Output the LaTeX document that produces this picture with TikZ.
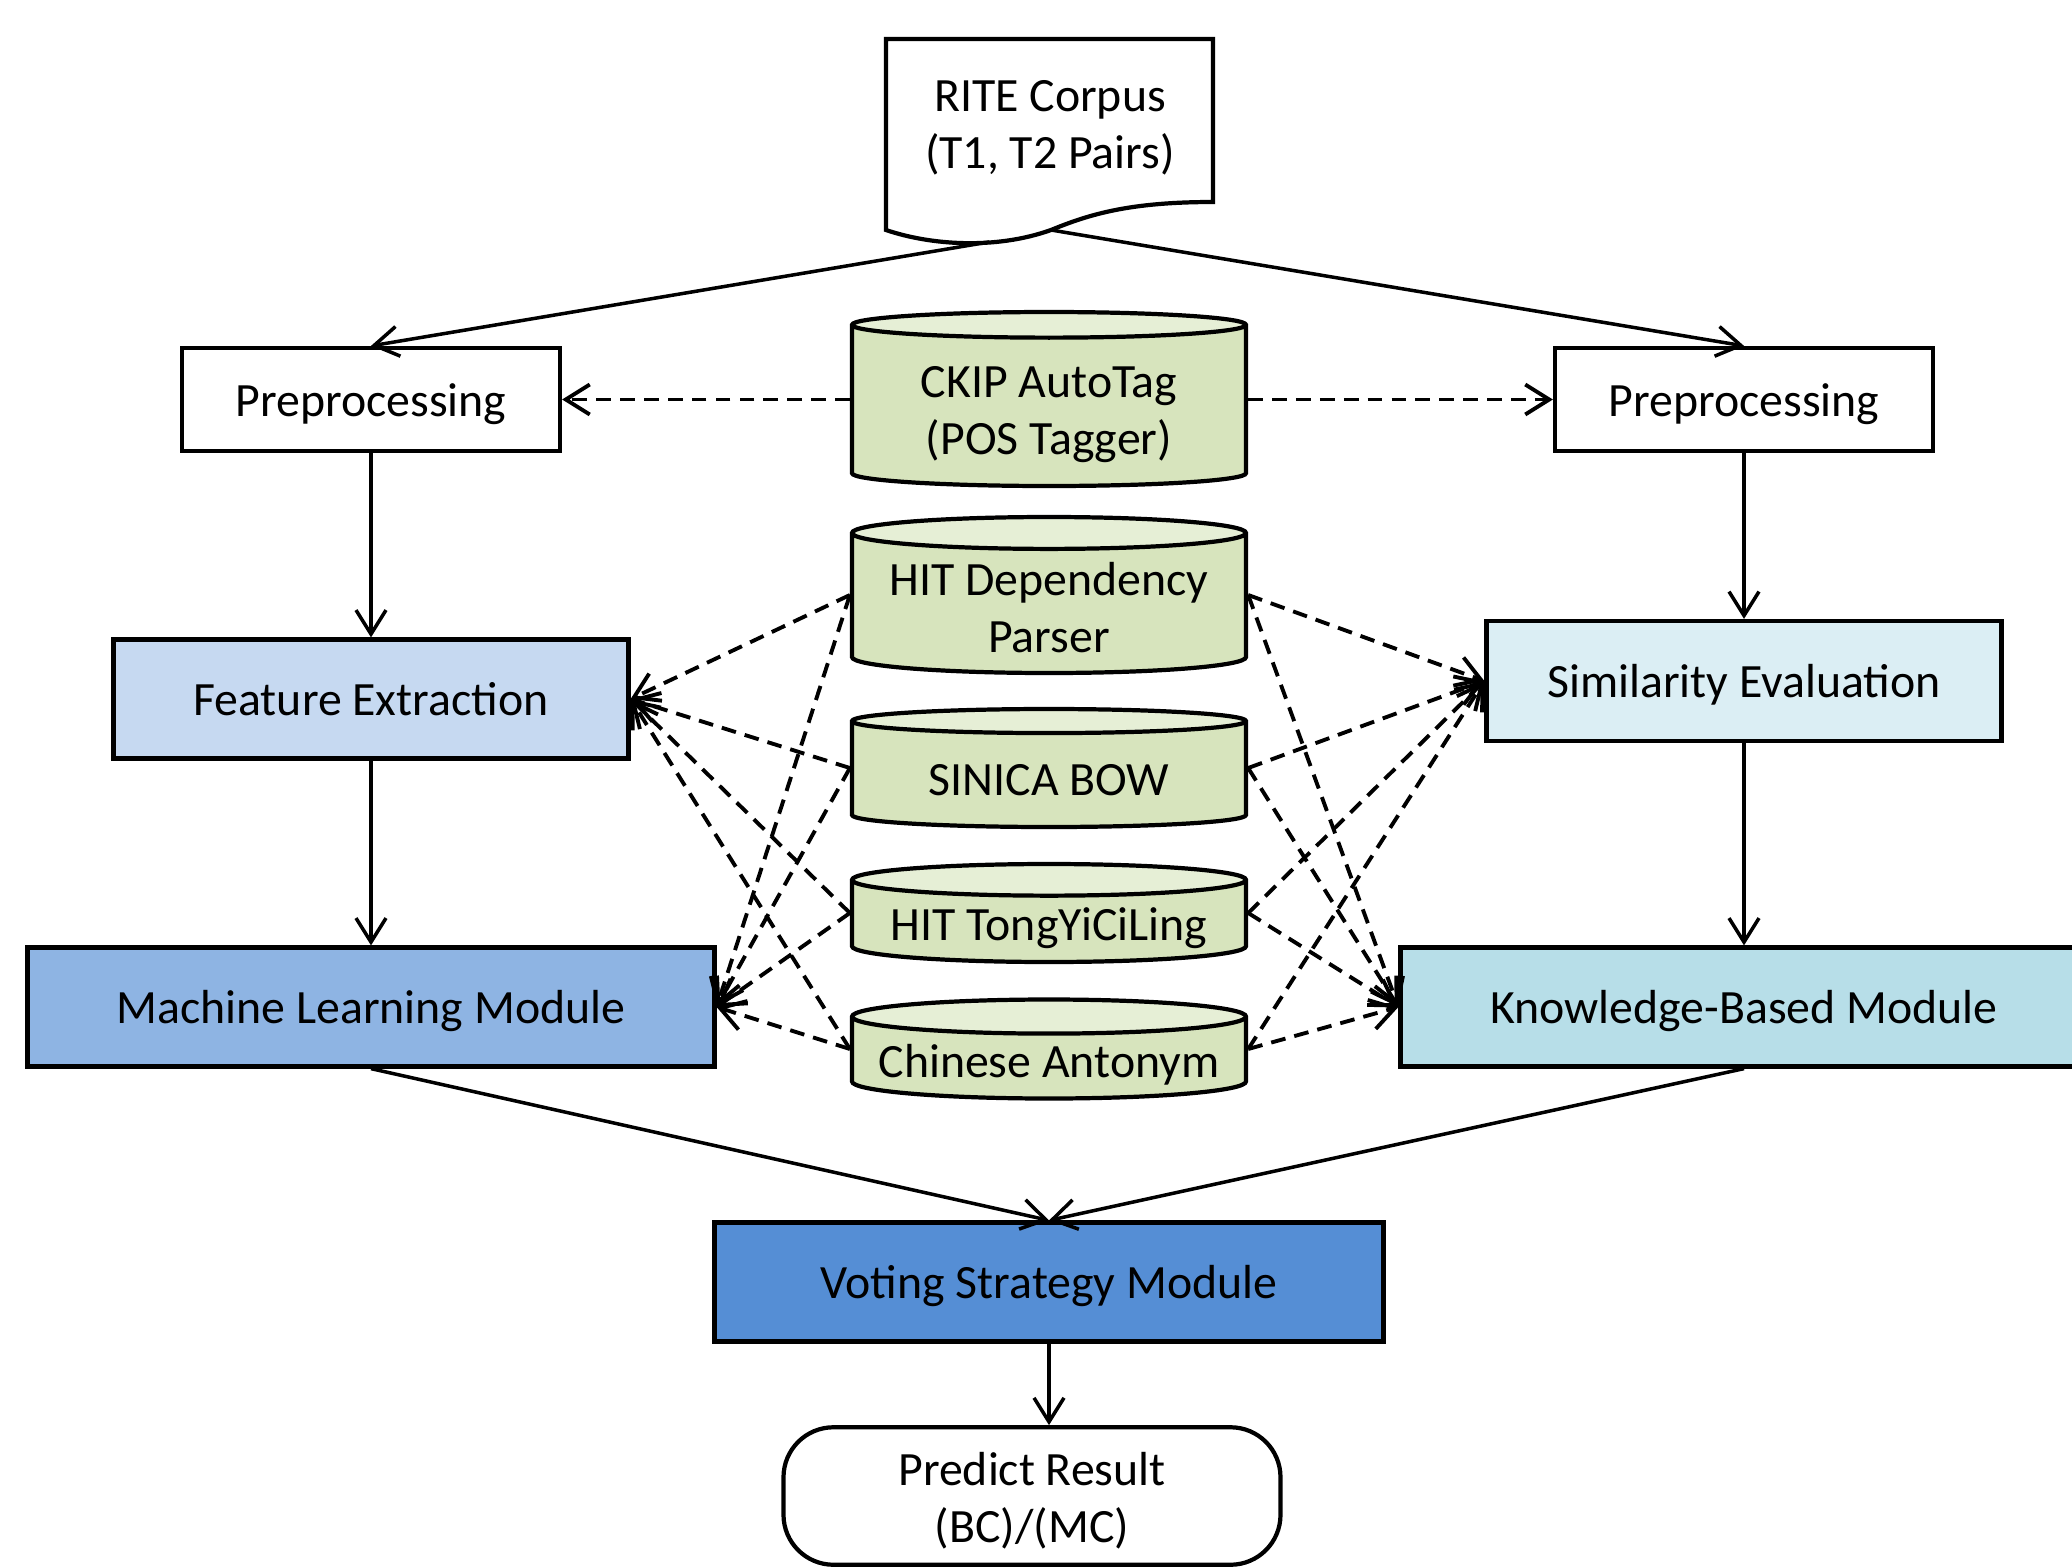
\documentclass[tikz,border=0pt]{standalone}
\usepackage{fontspec}
\setmainfont{Carlito}
\usetikzlibrary{shapes.geometric, arrows.meta}

\definecolor{featblue}{HTML}{C6D9F1}
\definecolor{mlblue}{HTML}{8EB4E3}
\definecolor{voteblue}{HTML}{558ED5}
\definecolor{simblue}{HTML}{DBEEF4}
\definecolor{kbblue}{HTML}{B7DEE8}
\definecolor{dbgreen}{HTML}{D7E4BD}
\definecolor{dbtop}{HTML}{E6EFD6}

\begin{document}
\begin{tikzpicture}[
  font=\fontsize{13.6}{16.3}\selectfont,
  box/.style={draw, line width=1.2pt, minimum height=1.19cm, inner sep=0pt,
    text height=1em, text depth=0.05em},
  db/.style={cylinder, shape border rotate=90, aspect=0.1, draw, line width=1.2pt,
    minimum width=3.94cm, cylinder uses custom fill, cylinder body fill=dbgreen,
    cylinder end fill=dbtop, align=center, inner sep=0pt, anchor=shape center},
  flow/.style={-{Straight Barb[length=2.4mm, width=3mm]}, line width=1pt},
  feed/.style={flow, line width=1.1pt, dash pattern=on 4.2pt off 2.6pt}
]
\useasboundingbox (0, 0) rectangle (20.72, -15.67);

% corpus document
\draw[line width=1.2pt, fill=white] (8.86, -0.39) -- (12.13, -0.39) -- (12.13, -2.02)
  .. controls (11.3, -2.02) and (10.9, -2.14) .. (10.51, -2.30)
  .. controls (9.95, -2.50) and (9.3, -2.45) .. (8.86, -2.30) -- cycle;
\node[align=center] (corpus) at (10.50, -1.28) {RITE Corpus\\(T1, T2 Pairs)};
\coordinate (corpus left) at (9.89, -2.42);
\coordinate (corpus right) at (10.51, -2.30);

\node[box, minimum width=3.78cm, minimum height=1.03cm] (prep left) at (3.71, -3.995) {Preprocessing};
\node[box, minimum width=3.78cm, minimum height=1.03cm] (prep right) at (17.44, -3.995) {Preprocessing};

% resources
\node[db, minimum height=1.74cm] (ckip db) at (10.49, -3.99) {\rule{0pt}{1em}CKIP AutoTag\\(POS Tagger)};
\node[db, minimum height=1.56cm] (hit dep db) at (10.49, -5.95) {\rule{0pt}{0.85em}HIT Dependency\\Parser};
\node[db, minimum height=1.18cm] (sinica db) at (10.49, -7.68) {\rule{0pt}{0.85em}SINICA BOW};
\node[db, minimum height=0.98cm, inner ysep=-3pt] (tongyi db) at (10.49, -9.13) {\rule{0pt}{0.95em}HIT TongYiCiLing};
\node[db, minimum height=0.99cm, inner ysep=-3pt] (antonym db) at (10.49, -10.49) {\rule{0pt}{0.95em}Chinese Antonym};

\node[box, fill=featblue, minimum width=5.15cm] (feature box) at (3.71, -6.99) {Feature Extraction};
\node[box, fill=simblue, minimum width=5.15cm, minimum height=1.20cm] (similarity box) at (17.44, -6.81) {Similarity Evaluation};
\node[box, fill=mlblue, minimum width=6.87cm] (ml box) at (3.71, -10.07) {Machine Learning Module};
\node[box, fill=kbblue, minimum width=6.87cm] (kb box) at (17.44, -10.07) {Knowledge-Based Module};
\node[box, fill=voteblue, minimum width=6.69cm] (vote box) at (10.49, -12.82) {Voting Strategy Module};
\node[draw, line width=1.2pt, rounded corners=0.5cm, minimum width=4.97cm, minimum height=1.375cm, align=center] (result) at (10.32, -14.96) {\rule{0pt}{0.9em}Predict Result\\(BC)/(MC)};

\draw[flow] (corpus left) -- (prep left.north);
\draw[flow] (corpus right) -- (prep right.north);
\draw[flow] (prep left) -- (feature box);
\draw[flow] (prep right) -- (similarity box);
\draw[flow] (feature box) -- (ml box);
\draw[flow] (similarity box) -- (kb box);
\draw[flow] (ml box.south) -- (vote box.north);
\draw[flow] (kb box.south) -- (vote box.north);
\draw[flow] (vote box.south) -- (vote box.south |- result.north);

\draw[feed] (ckip db.west |- prep left.east) -- (prep left.east);
\draw[feed] (ckip db.east |- prep right.west) -- (prep right.west);

\foreach \src in {hit dep db, sinica db, tongyi db, antonym db} {
  \draw[feed] (\src.shape center -| \src.west) -- (feature box.east);
  \draw[feed] (\src.shape center -| \src.west) -- (ml box.east);
  \draw[feed] (\src.shape center -| \src.east) -- (similarity box.west);
  \draw[feed] (\src.shape center -| \src.east) -- (kb box.west);
}
\end{tikzpicture}
\end{document}
